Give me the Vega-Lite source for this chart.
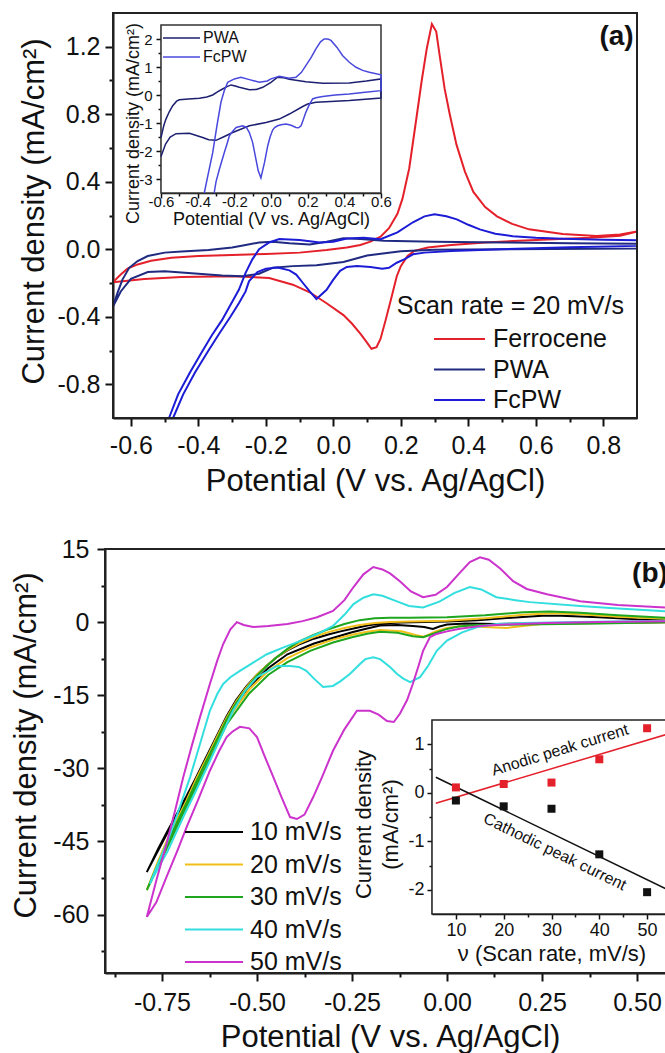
{
"$schema":"https://vega.github.io/schema/vega-lite/v6.json",
"width":665,"height":1053,"autosize":{"type":"none"},"padding":0,"background":"white",
"config":{"view":{"stroke":null},"font":"Liberation Sans",
"axis":{"grid":false,"domainColor":"#111","tickColor":"#111","labelColor":"#111","titleColor":"#111","labelFont":"Liberation Sans","titleFont":"Liberation Sans","titleFontWeight":"normal","labelFlush":false,"labelOverlap":false},
"legend":{"labelFont":"Liberation Sans","labelColor":"#111","padding":0,"title":null,"orient":"none"},
"text":{"font":"Liberation Sans","color":"#111"}},
"datasets":{
"a_fc":[{"x":-0.653,"y":-0.195},{"x":-0.63,"y":-0.15},{"x":-0.61,"y":-0.115},{"x":-0.58,"y":-0.09},{"x":-0.54,"y":-0.068},{"x":-0.48,"y":-0.05},{"x":-0.4,"y":-0.04},{"x":-0.3,"y":-0.034},{"x":-0.2,"y":-0.028},{"x":-0.1,"y":-0.02},{"x":-0.02,"y":-0.005},{"x":0.04,"y":0.01},{"x":0.08,"y":0.025},{"x":0.11,"y":0.045},{"x":0.14,"y":0.075},{"x":0.165,"y":0.125},{"x":0.19,"y":0.21},{"x":0.205,"y":0.3},{"x":0.225,"y":0.48},{"x":0.245,"y":0.76},{"x":0.262,"y":1.0},{"x":0.277,"y":1.19},{"x":0.292,"y":1.335},{"x":0.305,"y":1.29},{"x":0.315,"y":1.15},{"x":0.33,"y":0.95},{"x":0.345,"y":0.8},{"x":0.365,"y":0.62},{"x":0.39,"y":0.46},{"x":0.415,"y":0.34},{"x":0.45,"y":0.25},{"x":0.485,"y":0.195},{"x":0.53,"y":0.15},{"x":0.58,"y":0.118},{"x":0.68,"y":0.09},{"x":0.78,"y":0.078},{"x":0.85,"y":0.088},{"x":0.9,"y":0.105},{"x":0.85,"y":0.08},{"x":0.76,"y":0.068},{"x":0.6,"y":0.055},{"x":0.45,"y":0.04},{"x":0.35,"y":0.025},{"x":0.28,"y":0.01},{"x":0.24,"y":-0.01},{"x":0.22,"y":-0.04},{"x":0.2,"y":-0.1},{"x":0.188,"y":-0.16},{"x":0.173,"y":-0.28},{"x":0.155,"y":-0.42},{"x":0.14,"y":-0.53},{"x":0.128,"y":-0.58},{"x":0.113,"y":-0.59},{"x":0.095,"y":-0.54},{"x":0.08,"y":-0.5},{"x":0.055,"y":-0.44},{"x":0.03,"y":-0.39},{"x":-0.02,"y":-0.32},{"x":-0.07,"y":-0.255},{"x":-0.12,"y":-0.21},{"x":-0.19,"y":-0.17},{"x":-0.3,"y":-0.16},{"x":-0.45,"y":-0.165},{"x":-0.56,"y":-0.177},{"x":-0.653,"y":-0.195}],
"a_pwa":[{"x":-0.653,"y":-0.34},{"x":-0.64,"y":-0.26},{"x":-0.625,"y":-0.18},{"x":-0.605,"y":-0.11},{"x":-0.58,"y":-0.07},{"x":-0.55,"y":-0.04},{"x":-0.5,"y":-0.02},{"x":-0.45,"y":-0.013},{"x":-0.37,"y":-0.005},{"x":-0.3,"y":0.01},{"x":-0.26,"y":0.025},{"x":-0.22,"y":0.04},{"x":-0.18,"y":0.045},{"x":-0.13,"y":0.035},{"x":-0.07,"y":0.028},{"x":-0.02,"y":0.045},{"x":0.03,"y":0.065},{"x":0.08,"y":0.06},{"x":0.15,"y":0.05},{"x":0.3,"y":0.045},{"x":0.5,"y":0.04},{"x":0.7,"y":0.035},{"x":0.9,"y":0.032},{"x":0.9,"y":0.005},{"x":0.5,"y":0.0},{"x":0.3,"y":-0.003},{"x":0.2,"y":-0.012},{"x":0.1,"y":-0.037},{"x":0.03,"y":-0.075},{"x":-0.05,"y":-0.095},{"x":-0.12,"y":-0.1},{"x":-0.18,"y":-0.11},{"x":-0.22,"y":-0.145},{"x":-0.27,"y":-0.16},{"x":-0.33,"y":-0.155},{"x":-0.4,"y":-0.145},{"x":-0.5,"y":-0.13},{"x":-0.55,"y":-0.135},{"x":-0.6,"y":-0.175},{"x":-0.63,"y":-0.25},{"x":-0.653,"y":-0.34}],
"a_fcpw":[{"x":-0.487,"y":-1.0},{"x":-0.46,"y":-0.86},{"x":-0.425,"y":-0.73},{"x":-0.39,"y":-0.61},{"x":-0.36,"y":-0.51},{"x":-0.33,"y":-0.42},{"x":-0.305,"y":-0.33},{"x":-0.28,"y":-0.24},{"x":-0.26,"y":-0.14},{"x":-0.24,"y":-0.06},{"x":-0.22,"y":0.0},{"x":-0.19,"y":0.04},{"x":-0.16,"y":0.06},{"x":-0.1,"y":0.055},{"x":-0.04,"y":0.04},{"x":0.0,"y":0.045},{"x":0.04,"y":0.063},{"x":0.09,"y":0.068},{"x":0.14,"y":0.06},{"x":0.19,"y":0.1},{"x":0.236,"y":0.16},{"x":0.27,"y":0.195},{"x":0.3,"y":0.207},{"x":0.335,"y":0.195},{"x":0.366,"y":0.177},{"x":0.4,"y":0.145},{"x":0.434,"y":0.118},{"x":0.48,"y":0.092},{"x":0.532,"y":0.077},{"x":0.6,"y":0.068},{"x":0.68,"y":0.062},{"x":0.8,"y":0.057},{"x":0.9,"y":0.053},{"x":0.9,"y":0.02},{"x":0.7,"y":0.012},{"x":0.5,"y":0.0},{"x":0.35,"y":-0.01},{"x":0.27,"y":-0.02},{"x":0.236,"y":-0.03},{"x":0.21,"y":-0.06},{"x":0.188,"y":-0.08},{"x":0.165,"y":-0.11},{"x":0.145,"y":-0.115},{"x":0.11,"y":-0.105},{"x":0.07,"y":-0.1},{"x":0.04,"y":-0.105},{"x":0.02,"y":-0.128},{"x":0.0,"y":-0.18},{"x":-0.02,"y":-0.24},{"x":-0.05,"y":-0.295},{"x":-0.07,"y":-0.25},{"x":-0.09,"y":-0.2},{"x":-0.11,"y":-0.15},{"x":-0.13,"y":-0.125},{"x":-0.165,"y":-0.108},{"x":-0.2,"y":-0.115},{"x":-0.225,"y":-0.135},{"x":-0.25,"y":-0.19},{"x":-0.26,"y":-0.25},{"x":-0.28,"y":-0.32},{"x":-0.305,"y":-0.4},{"x":-0.335,"y":-0.49},{"x":-0.37,"y":-0.6},{"x":-0.41,"y":-0.73},{"x":-0.445,"y":-0.86},{"x":-0.475,"y":-1.0}],
"i_pwa":[{"x":-0.6,"y":-1.52},{"x":-0.585,"y":-1.1},{"x":-0.573,"y":-0.86},{"x":-0.555,"y":-0.6},{"x":-0.536,"y":-0.38},{"x":-0.515,"y":-0.22},{"x":-0.5,"y":-0.17},{"x":-0.45,"y":-0.14},{"x":-0.39,"y":-0.12},{"x":-0.35,"y":-0.07},{"x":-0.318,"y":0.0},{"x":-0.29,"y":0.12},{"x":-0.264,"y":0.215},{"x":-0.24,"y":0.3},{"x":-0.218,"y":0.36},{"x":-0.195,"y":0.32},{"x":-0.173,"y":0.275},{"x":-0.118,"y":0.19},{"x":-0.08,"y":0.2},{"x":-0.045,"y":0.275},{"x":0.0,"y":0.45},{"x":0.036,"y":0.635},{"x":0.065,"y":0.62},{"x":0.1,"y":0.56},{"x":0.19,"y":0.47},{"x":0.282,"y":0.42},{"x":0.427,"y":0.43},{"x":0.52,"y":0.5},{"x":0.6,"y":0.575},{"x":0.6,"y":-0.11},{"x":0.427,"y":-0.2},{"x":0.3,"y":-0.24},{"x":0.245,"y":-0.26},{"x":0.2,"y":-0.32},{"x":0.173,"y":-0.41},{"x":0.1,"y":-0.68},{"x":0.045,"y":-0.86},{"x":-0.027,"y":-0.98},{"x":-0.118,"y":-1.1},{"x":-0.209,"y":-1.34},{"x":-0.26,"y":-1.5},{"x":-0.3,"y":-1.62},{"x":-0.34,"y":-1.6},{"x":-0.373,"y":-1.52},{"x":-0.445,"y":-1.37},{"x":-0.518,"y":-1.38},{"x":-0.55,"y":-1.5},{"x":-0.575,"y":-1.75},{"x":-0.6,"y":-2.2}],
"i_fcpw":[{"x":-0.364,"y":-3.5},{"x":-0.345,"y":-2.9},{"x":-0.318,"y":-2.06},{"x":-0.295,"y":-1.1},{"x":-0.273,"y":-0.26},{"x":-0.255,"y":0.15},{"x":-0.236,"y":0.455},{"x":-0.2,"y":0.575},{"x":-0.164,"y":0.635},{"x":-0.118,"y":0.55},{"x":-0.064,"y":0.455},{"x":-0.02,"y":0.5},{"x":0.0,"y":0.575},{"x":0.045,"y":0.67},{"x":0.1,"y":0.6},{"x":0.136,"y":0.635},{"x":0.165,"y":0.8},{"x":0.19,"y":1.05},{"x":0.22,"y":1.35},{"x":0.245,"y":1.65},{"x":0.27,"y":1.9},{"x":0.29,"y":2.0},{"x":0.31,"y":2.0},{"x":0.327,"y":1.95},{"x":0.36,"y":1.7},{"x":0.39,"y":1.41},{"x":0.427,"y":1.17},{"x":0.464,"y":0.99},{"x":0.5,"y":0.88},{"x":0.536,"y":0.81},{"x":0.6,"y":0.72},{"x":0.6,"y":0.155},{"x":0.5,"y":0.09},{"x":0.427,"y":0.036},{"x":0.35,"y":0.0},{"x":0.282,"y":-0.05},{"x":0.245,"y":-0.1},{"x":0.227,"y":-0.14},{"x":0.205,"y":-0.4},{"x":0.19,"y":-0.62},{"x":0.175,"y":-0.9},{"x":0.164,"y":-1.1},{"x":0.15,"y":-1.17},{"x":0.136,"y":-1.16},{"x":0.11,"y":-1.08},{"x":0.082,"y":-1.04},{"x":0.055,"y":-1.06},{"x":0.036,"y":-1.1},{"x":0.02,"y":-1.16},{"x":0.009,"y":-1.25},{"x":-0.005,"y":-1.5},{"x":-0.018,"y":-1.82},{"x":-0.035,"y":-2.4},{"x":-0.055,"y":-2.96},{"x":-0.07,"y":-2.7},{"x":-0.082,"y":-2.3},{"x":-0.1,"y":-1.7},{"x":-0.118,"y":-1.34},{"x":-0.135,"y":-1.15},{"x":-0.155,"y":-1.1},{"x":-0.19,"y":-1.16},{"x":-0.21,"y":-1.3},{"x":-0.227,"y":-1.46},{"x":-0.24,"y":-1.75},{"x":-0.255,"y":-2.06},{"x":-0.282,"y":-2.66},{"x":-0.3,"y":-3.1},{"x":-0.31,"y":-3.5}],
"b10":[{"x":-0.79,"y":-51.3},{"x":-0.76,"y":-46.5},{"x":-0.738,"y":-43.2},{"x":-0.71,"y":-39.2},{"x":-0.685,"y":-35.6},{"x":-0.66,"y":-31.8},{"x":-0.632,"y":-27.4},{"x":-0.605,"y":-23.2},{"x":-0.58,"y":-19.3},{"x":-0.555,"y":-16},{"x":-0.527,"y":-13.1},{"x":-0.5,"y":-10.8},{"x":-0.474,"y":-8.9},{"x":-0.45,"y":-7.3},{"x":-0.42,"y":-5.8},{"x":-0.39,"y":-4.6},{"x":-0.35,"y":-3.4},{"x":-0.31,"y":-2.5},{"x":-0.28,"y":-1.9},{"x":-0.24,"y":-1.2},{"x":-0.21,"y":-0.7},{"x":-0.176,"y":-0.3},{"x":-0.12,"y":-0.1},{"x":-0.06,"y":0.0},{"x":0.0,"y":0.1},{"x":0.08,"y":0.4},{"x":0.17,"y":0.9},{"x":0.25,"y":1.3},{"x":0.3,"y":1.3},{"x":0.4,"y":1.0},{"x":0.5,"y":0.6},{"x":0.6,"y":0.4},{"x":0.6,"y":0.0},{"x":0.4,"y":-0.2},{"x":0.2,"y":-0.3},{"x":0.13,"y":-0.4},{"x":0.05,"y":-0.3},{"x":0.0,"y":-0.5},{"x":-0.02,"y":-0.9},{"x":-0.037,"y":-1.4},{"x":-0.06,"y":-1.0},{"x":-0.09,"y":-0.8},{"x":-0.13,"y":-0.6},{"x":-0.176,"y":-0.7},{"x":-0.21,"y":-1.3},{"x":-0.25,"y":-2.1},{"x":-0.29,"y":-3.0},{"x":-0.35,"y":-4.4},{"x":-0.42,"y":-6.6},{"x":-0.47,"y":-9.4},{"x":-0.525,"y":-13.6},{"x":-0.58,"y":-19.8},{"x":-0.63,"y":-27.8},{"x":-0.685,"y":-36},{"x":-0.738,"y":-43.6},{"x":-0.79,"y":-51.3}],
"b20":[{"x":-0.79,"y":-55},{"x":-0.76,"y":-49},{"x":-0.738,"y":-45},{"x":-0.71,"y":-40.5},{"x":-0.685,"y":-36.5},{"x":-0.66,"y":-32.2},{"x":-0.632,"y":-27.8},{"x":-0.605,"y":-23.5},{"x":-0.58,"y":-19.6},{"x":-0.555,"y":-16.3},{"x":-0.527,"y":-13.3},{"x":-0.5,"y":-10.8},{"x":-0.474,"y":-8.9},{"x":-0.45,"y":-7.3},{"x":-0.42,"y":-5.7},{"x":-0.39,"y":-4.4},{"x":-0.35,"y":-3.0},{"x":-0.31,"y":-2.0},{"x":-0.27,"y":-1.2},{"x":-0.23,"y":-0.6},{"x":-0.19,"y":-0.2},{"x":-0.15,"y":0.0},{"x":-0.1,"y":0.1},{"x":0.0,"y":0.3},{"x":0.1,"y":0.8},{"x":0.2,"y":1.5},{"x":0.28,"y":1.8},{"x":0.35,"y":1.6},{"x":0.45,"y":1.1},{"x":0.6,"y":0.6},{"x":0.6,"y":0.0},{"x":0.4,"y":-0.2},{"x":0.26,"y":-0.3},{"x":0.2,"y":-0.8},{"x":0.158,"y":-1.2},{"x":0.1,"y":-1.0},{"x":0.04,"y":-0.8},{"x":0.0,"y":-1.2},{"x":-0.03,"y":-1.9},{"x":-0.06,"y":-3.0},{"x":-0.08,"y":-2.7},{"x":-0.12,"y":-1.9},{"x":-0.176,"y":-1.6},{"x":-0.21,"y":-2.0},{"x":-0.25,"y":-2.6},{"x":-0.3,"y":-3.6},{"x":-0.36,"y":-5.2},{"x":-0.42,"y":-7.4},{"x":-0.47,"y":-10.0},{"x":-0.52,"y":-13.8},{"x":-0.58,"y":-20.2},{"x":-0.63,"y":-28.3},{"x":-0.685,"y":-37.2},{"x":-0.738,"y":-46},{"x":-0.79,"y":-55}],
"b30":[{"x":-0.79,"y":-55},{"x":-0.76,"y":-49.5},{"x":-0.738,"y":-45.5},{"x":-0.71,"y":-41},{"x":-0.685,"y":-37},{"x":-0.66,"y":-32.8},{"x":-0.632,"y":-28.3},{"x":-0.605,"y":-24},{"x":-0.58,"y":-20},{"x":-0.555,"y":-16.6},{"x":-0.527,"y":-13.6},{"x":-0.5,"y":-11},{"x":-0.474,"y":-9},{"x":-0.45,"y":-7.3},{"x":-0.42,"y":-5.5},{"x":-0.39,"y":-4.0},{"x":-0.35,"y":-2.6},{"x":-0.31,"y":-1.4},{"x":-0.27,"y":-0.4},{"x":-0.23,"y":0.4},{"x":-0.19,"y":0.8},{"x":-0.15,"y":0.9},{"x":-0.1,"y":0.9},{"x":0.0,"y":1.0},{"x":0.1,"y":1.4},{"x":0.2,"y":2.0},{"x":0.27,"y":2.2},{"x":0.35,"y":1.9},{"x":0.45,"y":1.4},{"x":0.6,"y":0.8},{"x":0.6,"y":0.0},{"x":0.4,"y":-0.3},{"x":0.2,"y":-0.5},{"x":0.08,"y":-0.6},{"x":0.03,"y":-0.9},{"x":0.0,"y":-1.4},{"x":-0.04,"y":-2.5},{"x":-0.063,"y":-3.1},{"x":-0.09,"y":-2.9},{"x":-0.13,"y":-2.2},{"x":-0.176,"y":-2.0},{"x":-0.21,"y":-2.4},{"x":-0.25,"y":-3.1},{"x":-0.3,"y":-4.2},{"x":-0.36,"y":-5.9},{"x":-0.42,"y":-8.2},{"x":-0.47,"y":-10.8},{"x":-0.52,"y":-14.6},{"x":-0.58,"y":-21},{"x":-0.63,"y":-29},{"x":-0.685,"y":-37.8},{"x":-0.738,"y":-46.5},{"x":-0.79,"y":-55}],
"b40":[{"x":-0.782,"y":-53.7},{"x":-0.76,"y":-49.5},{"x":-0.738,"y":-45.5},{"x":-0.71,"y":-39.5},{"x":-0.676,"y":-31.8},{"x":-0.65,"y":-25},{"x":-0.624,"y":-18.2},{"x":-0.605,"y":-14.8},{"x":-0.589,"y":-12.7},{"x":-0.57,"y":-11.3},{"x":-0.545,"y":-10},{"x":-0.51,"y":-8.3},{"x":-0.474,"y":-6.6},{"x":-0.43,"y":-5.2},{"x":-0.387,"y":-3.9},{"x":-0.34,"y":-2.4},{"x":-0.3,"y":-0.8},{"x":-0.27,"y":1.5},{"x":-0.246,"y":3.7},{"x":-0.22,"y":5},{"x":-0.194,"y":5.7},{"x":-0.17,"y":5.4},{"x":-0.13,"y":4.2},{"x":-0.1,"y":3.3},{"x":-0.063,"y":3.0},{"x":-0.02,"y":4.2},{"x":0.02,"y":6.0},{"x":0.06,"y":7.2},{"x":0.09,"y":6.7},{"x":0.13,"y":5.1},{"x":0.18,"y":4.5},{"x":0.218,"y":4.1},{"x":0.35,"y":3.3},{"x":0.45,"y":2.8},{"x":0.6,"y":2.1},{"x":0.6,"y":0.3},{"x":0.35,"y":0.0},{"x":0.2,"y":-0.2},{"x":0.13,"y":-0.4},{"x":0.08,"y":-1.0},{"x":0.04,"y":-2.1},{"x":0.0,"y":-3.8},{"x":-0.027,"y":-5.9},{"x":-0.05,"y":-9},{"x":-0.071,"y":-11.3},{"x":-0.097,"y":-12.3},{"x":-0.115,"y":-11.6},{"x":-0.132,"y":-10.6},{"x":-0.15,"y":-9.2},{"x":-0.176,"y":-7.6},{"x":-0.194,"y":-7.2},{"x":-0.215,"y":-7.6},{"x":-0.229,"y":-8.6},{"x":-0.255,"y":-10.6},{"x":-0.28,"y":-12.1},{"x":-0.3,"y":-13.1},{"x":-0.326,"y":-13.3},{"x":-0.35,"y":-11.6},{"x":-0.37,"y":-10},{"x":-0.39,"y":-9.2},{"x":-0.413,"y":-9.0},{"x":-0.447,"y":-9.0},{"x":-0.5,"y":-11.3},{"x":-0.53,"y":-14},{"x":-0.563,"y":-18.2},{"x":-0.59,"y":-22.7},{"x":-0.624,"y":-28.5},{"x":-0.66,"y":-34.5},{"x":-0.694,"y":-40},{"x":-0.735,"y":-47},{"x":-0.773,"y":-52.3},{"x":-0.782,"y":-53.7}],
"b50":[{"x":-0.79,"y":-60.5},{"x":-0.765,"y":-53},{"x":-0.738,"y":-45.5},{"x":-0.715,"y":-38.5},{"x":-0.694,"y":-31.8},{"x":-0.672,"y":-25.5},{"x":-0.65,"y":-19.5},{"x":-0.624,"y":-12.7},{"x":-0.605,"y":-8},{"x":-0.589,"y":-4.5},{"x":-0.57,"y":-1.5},{"x":-0.553,"y":0.0},{"x":-0.535,"y":-0.6},{"x":-0.51,"y":-1.0},{"x":-0.47,"y":-0.8},{"x":-0.42,"y":-0.4},{"x":-0.38,"y":0.2},{"x":-0.342,"y":1.0},{"x":-0.3,"y":2.3},{"x":-0.27,"y":4.5},{"x":-0.246,"y":7.2},{"x":-0.22,"y":9.8},{"x":-0.194,"y":11.3},{"x":-0.17,"y":10.8},{"x":-0.15,"y":10.0},{"x":-0.124,"y":8.4},{"x":-0.095,"y":6.3},{"x":-0.063,"y":5.1},{"x":-0.03,"y":5.6},{"x":0.0,"y":7.2},{"x":0.03,"y":9.8},{"x":0.06,"y":12.3},{"x":0.087,"y":13.3},{"x":0.11,"y":12.8},{"x":0.14,"y":11},{"x":0.174,"y":8.4},{"x":0.21,"y":6.8},{"x":0.263,"y":5.7},{"x":0.35,"y":4.3},{"x":0.45,"y":3.5},{"x":0.6,"y":2.9},{"x":0.6,"y":0.2},{"x":0.4,"y":0.0},{"x":0.26,"y":-0.2},{"x":0.15,"y":-0.5},{"x":0.087,"y":-0.8},{"x":0.03,"y":-1.4},{"x":0.0,"y":-1.9},{"x":-0.03,"y":-2.5},{"x":-0.045,"y":-3.1},{"x":-0.063,"y":-5.9},{"x":-0.075,"y":-9},{"x":-0.09,"y":-12.7},{"x":-0.105,"y":-16},{"x":-0.124,"y":-18.8},{"x":-0.14,"y":-20.5},{"x":-0.158,"y":-20.3},{"x":-0.18,"y":-19},{"x":-0.203,"y":-18.2},{"x":-0.237,"y":-18.2},{"x":-0.27,"y":-22},{"x":-0.3,"y":-26.4},{"x":-0.33,"y":-32},{"x":-0.352,"y":-35.9},{"x":-0.375,"y":-39.5},{"x":-0.395,"y":-40.4},{"x":-0.413,"y":-40},{"x":-0.435,"y":-36},{"x":-0.457,"y":-31.8},{"x":-0.48,"y":-27.5},{"x":-0.5,"y":-23.6},{"x":-0.52,"y":-21.8},{"x":-0.545,"y":-21.5},{"x":-0.565,"y":-22.5},{"x":-0.58,"y":-23.6},{"x":-0.6,"y":-26.5},{"x":-0.624,"y":-30.5},{"x":-0.655,"y":-36.5},{"x":-0.685,"y":-42},{"x":-0.71,"y":-47},{"x":-0.738,"y":-52.3},{"x":-0.765,"y":-57.5},{"x":-0.79,"y":-60.5}],
"b_pts":[{"kind":"anodic","x":10,"y":0.11},{"kind":"anodic","x":20,"y":0.18},{"kind":"anodic","x":30,"y":0.21},{"kind":"anodic","x":40,"y":0.69},{"kind":"anodic","x":50,"y":1.33},{"kind":"cathodic","x":10,"y":-0.16},{"kind":"cathodic","x":20,"y":-0.28},{"kind":"cathodic","x":30,"y":-0.33},{"kind":"cathodic","x":40,"y":-1.27},{"kind":"cathodic","x":50,"y":-2.05}],
"b_fit":[{"kind":"anodic","x":5.8,"y":-0.216},{"kind":"anodic","x":55,"y":1.23},{"kind":"cathodic","x":5.8,"y":0.32},{"kind":"cathodic","x":55,"y":-2.03}]
},
"layer":[
{"data":{"values":[{}]},"mark":{"type":"point","opacity":0},"encoding":{
 "x":{"datum":0,"type":"quantitative","scale":{"domain":[-0.653,0.9],"range":[113,637],"nice":false,"zero":false},"axis":{"orient":"bottom","offset":-635,"values":[-0.5,-0.3,-0.1,0.1,0.3,0.5,0.7],"labels":false,"domain":false,"title":null,"tickSize":4,"tickWidth":2}},
 "y":{"datum":0,"type":"quantitative","scale":{"domain":[-1,1.4],"range":[418,13],"nice":false,"zero":false},"axis":{"orient":"left","offset":-113,"values":[-0.6,-0.2,0.2,0.6,1.0],"labels":false,"domain":false,"title":null,"tickSize":4,"tickWidth":2}}}},
{"data":{"values":[{}]},"mark":{"type":"point","opacity":0},"encoding":{
 "x":{"datum":0,"type":"quantitative","scale":{"domain":[-0.653,0.9],"range":[113,637],"nice":false,"zero":false},
  "axis":{"orient":"bottom","offset":-635,"values":[-0.6,-0.4,-0.2,0,0.2,0.4,0.6,0.8],"format":".1f","labelExpr":"replace(datum.label,'\u2212','-')","tickSize":8,"tickWidth":2,"domainWidth":2,"labelFontSize":25,"labelPadding":27,"labelBaseline":"alphabetic","title":"Potential (V vs. Ag/AgCl)","titleFontSize":31,"titleY":72,"titleBaseline":"alphabetic"}},
 "y":{"datum":0,"type":"quantitative","scale":{"domain":[-1,1.4],"range":[418,13],"nice":false,"zero":false},
  "axis":{"orient":"left","offset":-113,"values":[-0.8,-0.4,0,0.4,0.8,1.2],"format":".1f","labelExpr":"replace(datum.label,'\u2212','-')","tickSize":8,"tickWidth":2,"domainWidth":2,"labelFontSize":25,"labelPadding":5,"title":"Current density (mA/cm\u00b2)","titleFontSize":31,"titleX":-70,"titleY":211,"titleBaseline":"alphabetic"}}}},
{"data":{"values":[{}]},"mark":{"type":"point","opacity":0},"encoding":{
 "x":{"datum":0,"type":"quantitative","scale":{"domain":[-0.6,0.6],"range":[161,381],"nice":false,"zero":false},"axis":{"orient":"bottom","offset":-860,"values":[-0.5,-0.3,-0.1,0.1,0.3,0.5],"labels":false,"domain":false,"title":null,"tickSize":3,"tickWidth":1.5}},
 "y":{"datum":0,"type":"quantitative","scale":{"domain":[-3.5,2.5],"range":[193,25],"nice":false,"zero":false},"axis":{"orient":"left","offset":-161,"values":[-2.5,-1.5,-0.5,0.5,1.5],"labels":false,"domain":false,"title":null,"tickSize":3,"tickWidth":1.5}}}},
{"data":{"values":[{}]},"mark":{"type":"point","opacity":0},"encoding":{
 "x":{"datum":0,"type":"quantitative","scale":{"domain":[-0.9,0.6],"range":[105,675],"nice":false,"zero":false},"axis":{"orient":"bottom","offset":-80,"values":[-0.875,-0.625,-0.375,-0.125,0.125,0.375],"labels":false,"domain":false,"title":null,"tickSize":4,"tickWidth":2}},
 "y":{"datum":0,"type":"quantitative","scale":{"domain":[-72,15],"range":[973,549],"nice":false,"zero":false},"axis":{"orient":"left","offset":-105,"values":[-67.5,-52.5,-37.5,-22.5,-7.5,7.5],"labels":false,"domain":false,"title":null,"tickSize":4,"tickWidth":2}}}},
{"data":{"values":[{}]},"mark":{"type":"point","opacity":0},"encoding":{
 "x":{"datum":0,"type":"quantitative","scale":{"domain":[-0.9,0.6],"range":[105,675],"nice":false,"zero":false},
  "axis":{"orient":"bottom","offset":-80,"values":[-0.75,-0.5,-0.25,0,0.25,0.5],"format":".2f","labelExpr":"replace(datum.label,'\u2212','-')","tickSize":8,"tickWidth":2,"domainWidth":2,"labelFontSize":25,"labelPadding":29,"labelBaseline":"alphabetic","title":"Potential (V vs. Ag/AgCl)","titleFontSize":31,"titleY":73,"titleBaseline":"alphabetic"}},
 "y":{"datum":0,"type":"quantitative","scale":{"domain":[-72,15],"range":[973,549],"nice":false,"zero":false},
  "axis":{"orient":"left","offset":-105,"values":[-60,-45,-30,-15,0,15],"format":".0f","labelExpr":"replace(datum.label,'\u2212','-')","tickSize":8,"tickWidth":2,"domainWidth":2,"labelFontSize":25,"labelPadding":8,"title":"Current density (mA/cm\u00b2)","titleFontSize":31,"titleX":-70,"titleY":745,"titleBaseline":"alphabetic"}}}},
{"data":{"values":[{}]},"mark":{"type":"point","opacity":0},"encoding":{
 "x":{"datum":30,"type":"quantitative","scale":{"domain":[5,55],"range":[432,671],"nice":false,"zero":false},"axis":{"orient":"bottom","offset":-139,"values":[15,25,35,45],"labels":false,"domain":false,"title":null,"tickSize":3,"tickWidth":1.5}},
 "y":{"datum":0,"type":"quantitative","scale":{"domain":[-2.5,1.5],"range":[914,720],"nice":false,"zero":false},"axis":{"orient":"left","offset":-432,"values":[-1.5,-0.5,0.5],"labels":false,"domain":false,"title":null,"tickSize":3,"tickWidth":1.5}}}},
{"layer":[
 {"data":{"name":"a_fc"},"mark":{"type":"line","strokeWidth":2},"encoding":{
  "x":{"field":"x","type":"quantitative","scale":{"domain":[-0.653,0.9],"range":[113,637],"nice":false,"zero":false},"axis":null},
  "y":{"field":"y","type":"quantitative","scale":{"domain":[-1,1.4],"range":[418,13],"nice":false,"zero":false},"axis":null},
  "color":{"datum":"Ferrocene","scale":{"domain":["Ferrocene","PWA","FcPW"],"range":["#e4202a","#1f2a80","#1c1cd6"]},
   "legend":{"orient":"none","legendX":447,"legendY":326.5,"title":null,"symbolType":"M-3,0H3","symbolSize":289,"symbolStrokeWidth":2,"labelFontSize":25,"labelOffset":21,"rowPadding":4.5,"padding":0}},
  "order":{"value":null}}},
 {"data":{"name":"a_pwa"},"mark":{"type":"line","strokeWidth":2},"encoding":{"x":{"field":"x","type":"quantitative","axis":null},"y":{"field":"y","type":"quantitative","axis":null},"color":{"datum":"PWA"},"order":{"value":null}}},
 {"data":{"name":"a_fcpw"},"mark":{"type":"line","strokeWidth":2},"encoding":{"x":{"field":"x","type":"quantitative","axis":null},"y":{"field":"y","type":"quantitative","axis":null},"color":{"datum":"FcPW"},"order":{"value":null}}},
 {"data":{"values":[{}]},"mark":{"type":"rect","fill":null,"stroke":"#222","strokeWidth":2},"encoding":{"x":{"datum":-0.653,"type":"quantitative","axis":null},"x2":{"datum":0.9},"y":{"datum":-1,"type":"quantitative","axis":null},"y2":{"datum":1.4}}},
 {"data":{"values":[{}]},"mark":{"type":"text","align":"left","baseline":"middle","fontSize":25},"encoding":{"x":{"datum":0.188,"type":"quantitative","axis":null},"y":{"datum":-0.337,"type":"quantitative","axis":null},"text":{"value":"Scan rate = 20 mV/s"}}},
 {"data":{"values":[{}]},"mark":{"type":"text","align":"right","baseline":"middle","fontSize":28,"fontWeight":"bold"},"encoding":{"x":{"datum":0.89,"type":"quantitative","axis":null},"y":{"datum":1.258,"type":"quantitative","axis":null},"text":{"value":"(a)"}}}
]},
{"layer":[
 {"data":{"values":[{}]},"mark":{"type":"rect","fill":"white","stroke":"#333","strokeWidth":1.5},"encoding":{
  "x":{"datum":-0.6,"type":"quantitative","scale":{"domain":[-0.6,0.6],"range":[161,381],"nice":false,"zero":false},"axis":null},
  "x2":{"datum":0.6},
  "y":{"datum":-3.5,"type":"quantitative","scale":{"domain":[-3.5,2.5],"range":[193,25],"nice":false,"zero":false},"axis":null},
  "y2":{"datum":2.5}}},
 {"data":{"name":"i_pwa"},"mark":{"type":"line","strokeWidth":1.5},"encoding":{"x":{"field":"x","type":"quantitative","axis":null},"y":{"field":"y","type":"quantitative","axis":null},
  "color":{"datum":"PWA","scale":{"domain":["PWA","FcPW"],"range":["#1d1f70","#4848dc"]},
   "legend":{"orient":"none","legendX":173.5,"legendY":30,"title":null,"symbolType":"M-3,0H3","symbolSize":152,"symbolStrokeWidth":1.5,"labelFontSize":16,"labelOffset":13.5,"rowPadding":3,"padding":0}},
  "order":{"value":null}}},
 {"data":{"name":"i_fcpw"},"mark":{"type":"line","strokeWidth":1.5},"encoding":{"x":{"field":"x","type":"quantitative","axis":null},"y":{"field":"y","type":"quantitative","axis":null},"color":{"datum":"FcPW"},"order":{"value":null}}}
]},
{"data":{"values":[{}]},"mark":{"type":"point","opacity":0},"encoding":{
 "x":{"datum":0,"type":"quantitative","scale":{"domain":[-0.6,0.6],"range":[161,381],"nice":false,"zero":false},
  "axis":{"orient":"bottom","offset":-860,"values":[-0.6,-0.4,-0.2,0,0.2,0.4,0.6],"format":".1f","labelExpr":"replace(datum.label,'\u2212','-')","tickSize":5,"tickWidth":1.5,"domainWidth":1.5,"labelFontSize":15,"labelPadding":8,"labelBaseline":"alphabetic","title":"Potential (V vs. Ag/AgCl)","titleFontSize":18,"titleY":31,"titleBaseline":"alphabetic"}},
 "y":{"datum":0,"type":"quantitative","scale":{"domain":[-3.5,2.5],"range":[193,25],"nice":false,"zero":false},
  "axis":{"orient":"left","offset":-161,"values":[-3,-2,-1,0,1,2],"format":".0f","labelExpr":"replace(datum.label,'\u2212','-')","tickSize":5,"tickWidth":1.5,"domainWidth":1.5,"labelFontSize":15,"labelPadding":4,"title":"Current density (mA/cm\u00b2)","titleFontSize":18,"titleX":-23,"titleY":123,"titleBaseline":"alphabetic"}}}},
{"layer":[
 {"data":{"name":"b10"},"mark":{"type":"line","strokeWidth":2},"encoding":{
  "x":{"field":"x","type":"quantitative","scale":{"domain":[-0.9,0.6],"range":[105,675],"nice":false,"zero":false},"axis":null},
  "y":{"field":"y","type":"quantitative","scale":{"domain":[-72,15],"range":[973,549],"nice":false,"zero":false},"axis":null},
  "color":{"datum":"10 mV/s","scale":{"domain":["10 mV/s","20 mV/s","30 mV/s","40 mV/s","50 mV/s"],"range":["#000000","#f2bf1a","#1fa61f","#33dede","#cc33cc"]},
   "legend":{"orient":"none","legendX":201.5,"legendY":819.5,"title":null,"symbolType":"M-3,0H3","symbolSize":374,"symbolStrokeWidth":2,"labelFontSize":25,"labelOffset":23.5,"rowPadding":6.5,"padding":0}},
  "order":{"value":null}}},
 {"data":{"name":"b20"},"mark":{"type":"line","strokeWidth":2},"encoding":{"x":{"field":"x","type":"quantitative","axis":null},"y":{"field":"y","type":"quantitative","axis":null},"color":{"datum":"20 mV/s"},"order":{"value":null}}},
 {"data":{"name":"b30"},"mark":{"type":"line","strokeWidth":2},"encoding":{"x":{"field":"x","type":"quantitative","axis":null},"y":{"field":"y","type":"quantitative","axis":null},"color":{"datum":"30 mV/s"},"order":{"value":null}}},
 {"data":{"name":"b40"},"mark":{"type":"line","strokeWidth":2},"encoding":{"x":{"field":"x","type":"quantitative","axis":null},"y":{"field":"y","type":"quantitative","axis":null},"color":{"datum":"40 mV/s"},"order":{"value":null}}},
 {"data":{"name":"b50"},"mark":{"type":"line","strokeWidth":2},"encoding":{"x":{"field":"x","type":"quantitative","axis":null},"y":{"field":"y","type":"quantitative","axis":null},"color":{"datum":"50 mV/s"},"order":{"value":null}}},
 {"data":{"values":[{}]},"mark":{"type":"rect","fill":null,"stroke":"#222","strokeWidth":2},"encoding":{"x":{"datum":-0.9,"type":"quantitative","axis":null},"x2":{"datum":0.6},"y":{"datum":-72,"type":"quantitative","axis":null},"y2":{"datum":15}}},
 {"data":{"values":[{}]},"mark":{"type":"text","align":"left","baseline":"middle","fontSize":28,"fontWeight":"bold"},"encoding":{"x":{"datum":0.487,"type":"quantitative","axis":null},"y":{"datum":9.8,"type":"quantitative","axis":null},"text":{"value":"(b)"}}}
]},
{"layer":[
 {"data":{"values":[{}]},"mark":{"type":"rect","fill":"white","stroke":"#222","strokeWidth":1.5},"encoding":{
  "x":{"datum":5,"type":"quantitative","scale":{"domain":[5,55],"range":[432,671],"nice":false,"zero":false},"axis":null},
  "x2":{"datum":55},
  "y":{"datum":-2.5,"type":"quantitative","scale":{"domain":[-2.5,1.5],"range":[914,720],"nice":false,"zero":false},"axis":null},
  "y2":{"datum":1.5}}},
 {"data":{"name":"b_fit"},"transform":[{"filter":"datum.kind=='anodic'"}],"mark":{"type":"line","strokeWidth":1.5,"color":"#e4202a"},"encoding":{"x":{"field":"x","type":"quantitative","axis":null},"y":{"field":"y","type":"quantitative","axis":null},"order":{"value":null}}},
 {"data":{"name":"b_fit"},"transform":[{"filter":"datum.kind=='cathodic'"}],"mark":{"type":"line","strokeWidth":1.5,"color":"#111"},"encoding":{"x":{"field":"x","type":"quantitative","axis":null},"y":{"field":"y","type":"quantitative","axis":null},"order":{"value":null}}},
 {"data":{"name":"b_pts"},"transform":[{"filter":"datum.kind=='anodic'"}],"mark":{"type":"point","shape":"square","filled":true,"size":64,"color":"#e4202a","opacity":1},"encoding":{"x":{"field":"x","type":"quantitative","axis":null},"y":{"field":"y","type":"quantitative","axis":null}}},
 {"data":{"name":"b_pts"},"transform":[{"filter":"datum.kind=='cathodic'"}],"mark":{"type":"point","shape":"square","filled":true,"size":64,"color":"#111","opacity":1},"encoding":{"x":{"field":"x","type":"quantitative","axis":null},"y":{"field":"y","type":"quantitative","axis":null}}},
 {"data":{"values":[{}]},"mark":{"type":"text","align":"center","baseline":"middle","fontSize":16,"angle":343},"encoding":{"x":{"datum":31.8,"type":"quantitative","axis":null},"y":{"datum":0.88,"type":"quantitative","axis":null},"text":{"value":"Anodic peak current"}}},
 {"data":{"values":[{}]},"mark":{"type":"text","align":"center","baseline":"middle","fontSize":16,"angle":26},"encoding":{"x":{"datum":30.7,"type":"quantitative","axis":null},"y":{"datum":-1.22,"type":"quantitative","axis":null},"text":{"value":"Cathodic peak current"}}}
]},
{"data":{"values":[{}]},"mark":{"type":"point","opacity":0},"encoding":{
 "x":{"datum":30,"type":"quantitative","scale":{"domain":[5,55],"range":[432,671],"nice":false,"zero":false},
  "axis":{"orient":"bottom","offset":-139,"values":[10,20,30,40,50],"format":"d","tickSize":5,"tickWidth":1.5,"domainWidth":1.5,"labelFontSize":18,"labelPadding":16,"labelBaseline":"alphabetic","title":"\u03bd (Scan rate, mV/s)","titleFontSize":22,"titleY":46,"titleBaseline":"alphabetic"}},
 "y":{"datum":0,"type":"quantitative","scale":{"domain":[-2.5,1.5],"range":[914,720],"nice":false,"zero":false},
  "axis":{"orient":"left","offset":-432,"values":[-2,-1,0,1],"format":".0f","labelExpr":"replace(datum.label,'\u2212','-')","tickSize":5,"tickWidth":1.5,"domainWidth":1.5,"labelFontSize":18,"labelPadding":3,"title":["Current density","(mA/cm\u00b2)"],"titleFontSize":22,"titleLineHeight":27,"titleX":-62,"titleY":824,"titleBaseline":"alphabetic"}}}}
],
"resolve":{"scale":{"x":"independent","y":"independent","color":"independent"}}
}
